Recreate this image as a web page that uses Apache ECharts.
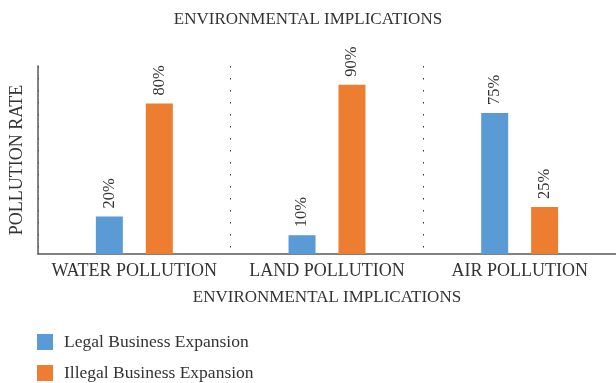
<!DOCTYPE html>
<html>
<head>
<meta charset="utf-8">
<script src="https://cdn.jsdelivr.net/npm/echarts@6/dist/echarts.min.js"></script>
<style>
  html, body { margin: 0; padding: 0; background: #fff; }
  #chart { width: 616px; height: 383px; }
</style>
</head>
<body>
<div id="chart"></div>
<script>
const categories = ['WATER POLLUTION', 'LAND POLLUTION', 'AIR POLLUTION'];
const legalValues = [20, 10, 75];
const illegalValues = [80, 90, 25];
const seriesNames = ['Legal Business Expansion', 'Illegal Business Expansion'];

const font = '"Liberation Serif", "DejaVu Serif", serif';
const textColor = '#333';

const chart = echarts.init(document.getElementById('chart'));

const barLabel = {
  show: true,
  position: 'top',
  rotate: 90,
  align: 'left',
  verticalAlign: 'middle',
  distance: 8,
  formatter: '{c}%',
  fontFamily: font,
  fontSize: 16.5,
  color: textColor
};

const option = {
  animation: false,
  title: {
    text: 'ENVIRONMENTAL IMPLICATIONS',
    left: 'center',
    top: 6,
    textStyle: { fontFamily: font, fontSize: 17, fontWeight: 'normal', color: textColor }
  },
  legend: {
    orient: 'vertical',
    left: 32,
    top: 328,
    height: 60,
    itemWidth: 16,
    itemHeight: 16,
    itemGap: 13,
    icon: 'rect',
    textStyle: { fontFamily: font, fontSize: 17.5, color: textColor, padding: [0, 0, 0, 6] },
    data: seriesNames
  },
  grid: { left: 37, right: -6, top: 66, bottom: 129 },
  xAxis: {
    type: 'category',
    data: categories,
    name: 'ENVIRONMENTAL IMPLICATIONS',
    nameLocation: 'middle',
    nameGap: 35,
    nameTextStyle: { fontFamily: font, fontSize: 17, color: textColor },
    axisLine: { lineStyle: { color: '#595959', width: 1.5 } },
    axisTick: { show: false, interval: 0 },
    axisLabel: { fontFamily: font, fontSize: 18, color: textColor, margin: 8, interval: 0 },
    splitLine: { show: true, interval: 0, lineStyle: { color: '#333', type: [1.5, 10.5], width: 1 } }
  },
  yAxis: {
    type: 'value',
    min: 0,
    max: 100,
    name: 'POLLUTION RATE',
    nameLocation: 'middle',
    nameGap: 12,
    nameTextStyle: { fontFamily: font, fontSize: 18, color: textColor },
    axisLine: { show: true, lineStyle: { color: '#595959', width: 1.5 } },
    axisTick: { show: false },
    axisLabel: { show: false },
    splitLine: { show: false }
  },
  series: [
    {
      name: seriesNames[0],
      type: 'bar',
      data: legalValues,
      barWidth: 27,
      barGap: '85%',
      itemStyle: { color: '#5B9BD5' },
      label: barLabel
    },
    {
      name: seriesNames[1],
      type: 'bar',
      data: illegalValues,
      barWidth: 27,
      itemStyle: { color: '#ED7D31' },
      label: barLabel
    }
  ]
};

chart.setOption(option);
</script>
</body>
</html>
